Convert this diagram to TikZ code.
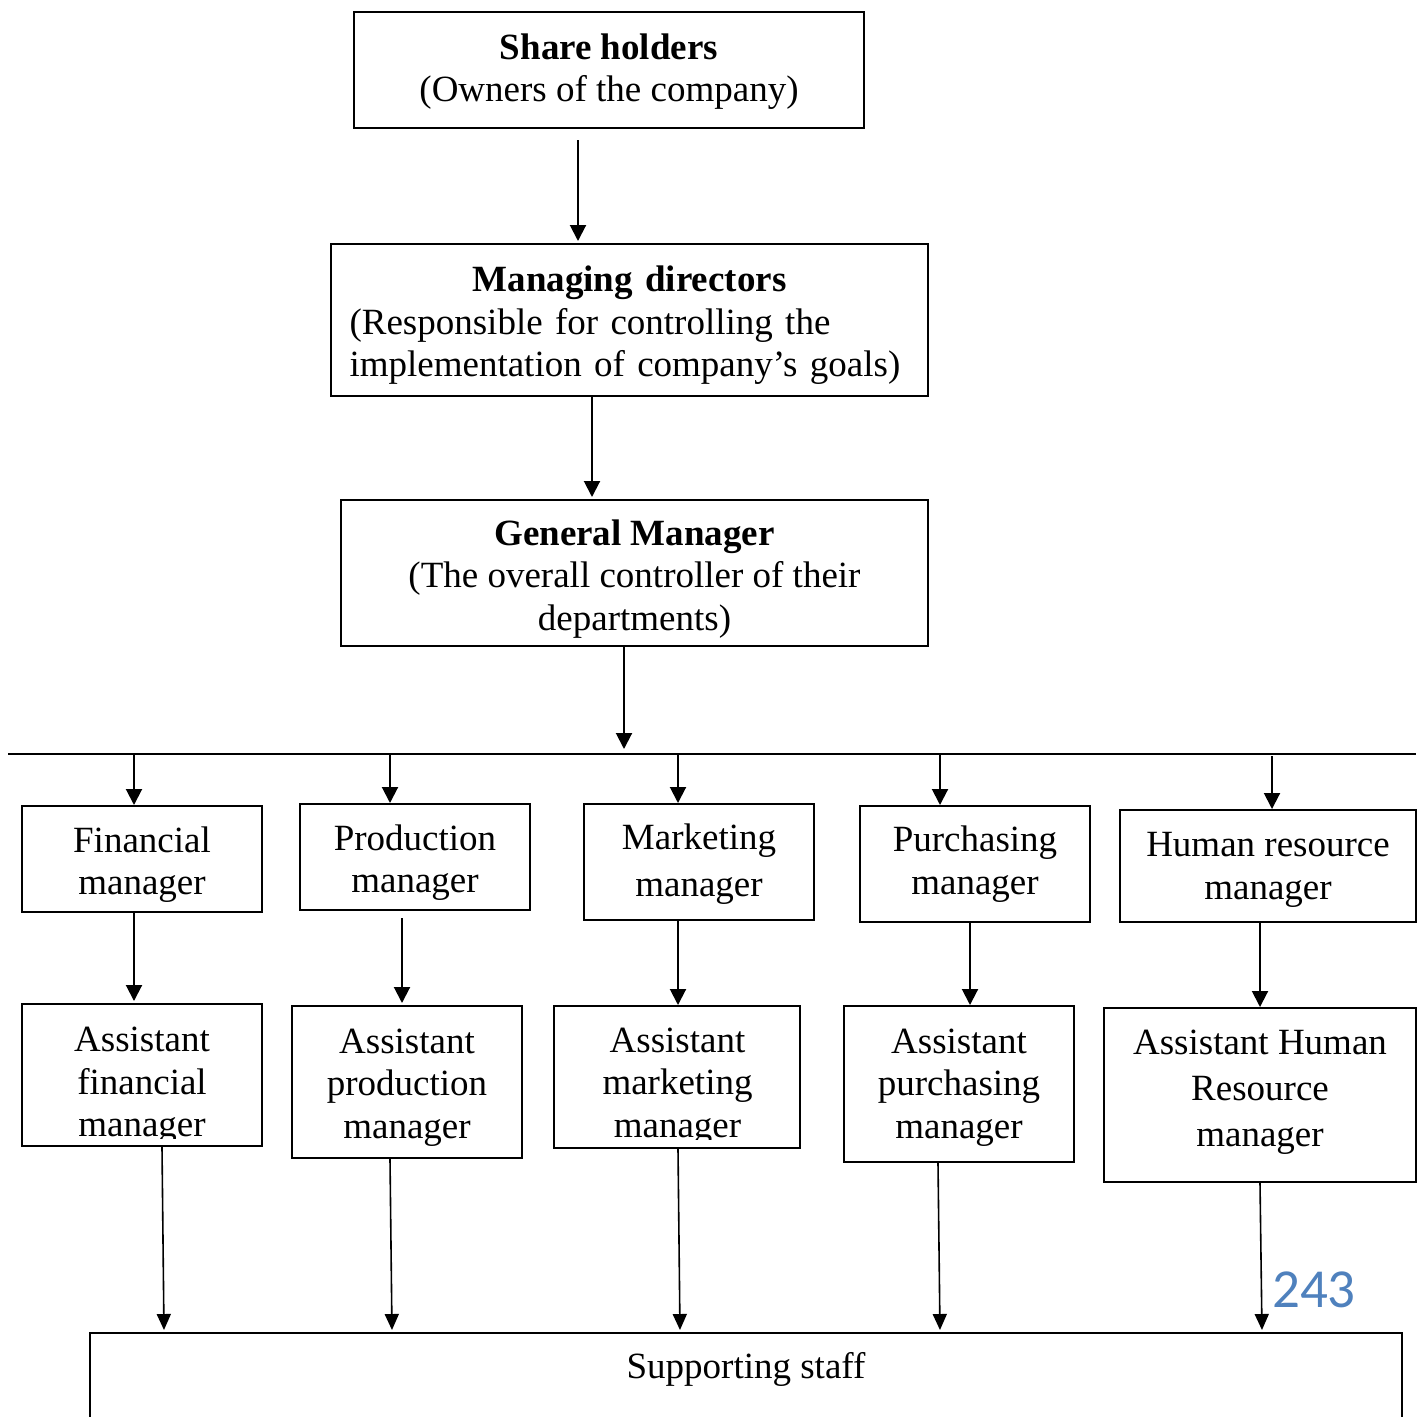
\documentclass[tikz,border=0pt]{standalone}
\usepackage{fontspec}
\setmainfont{Liberation Serif}
\newfontfamily\pagefont{Carlito}
\usetikzlibrary{arrows.meta}
\definecolor{pagenum}{RGB}{79,129,189}
% invisible rule that sets the height of a first text line
\newcommand\tallline[1]{\rule{0pt}{#1pt}}

\begin{document}
\begin{tikzpicture}[x=1pt,y=-1pt,
  box/.style={draw, line width=2pt, inner sep=0pt, align=center,
    font=\fontsize{37}{42.5}\selectfont},
  boxtext/.style={inner sep=0pt, align=center, font=\fontsize{37}{42.5}\selectfont},
  arr/.style={line width=2pt, -{Triangle[width=16pt,length=16pt]}},
  thinarr/.style={line width=1.6pt, -{Triangle[width=14pt,length=16pt]}},
]
\useasboundingbox (0,0) rectangle (1418,1416);
\clip (0,0) rectangle (1418,1416);

% ---- top of the hierarchy ----
\node[box, minimum width=510pt, minimum height=116pt] (sh) at (609,70)
  {\tallline{29}\textbf{Share holders}\\(Owners of the company)};
\node[box, minimum width=597pt, minimum height=152pt, text width=560pt, align=left] (md) at (629.5,320)
  {\tallline{36}\makebox[560pt]{\bfseries Managing directors}\\(Responsible for controlling the\\implementation of company's goals)};
\node[box, minimum width=587pt, minimum height=146pt] (gm) at (634.5,573)
  {\tallline{37}\textbf{General Manager}\\(The overall controller of their\\departments)};

% ---- department managers ----
\node[box, minimum width=240pt, minimum height=106pt] (fm) at (142,859) {\tallline{37}Financial\\manager};
\node[box, minimum width=230pt, minimum height=106pt] (pm) at (415,857) {\tallline{37}Production\\manager};
\node[box, minimum width=230pt, minimum height=116pt, font=\fontsize{37}{47}\selectfont] (mm) at (699,862) {\tallline{29}Marketing\\manager};
\node[box, minimum width=230pt, minimum height=116pt] (pum) at (975,864) {\tallline{26}Purchasing\\manager};
\node[box, minimum width=296pt, minimum height=112pt] (hm) at (1268,866) {\tallline{32}Human resource\\manager};

% ---- assistants ----
\node[box, minimum width=240pt, minimum height=142pt] (af) at (142,1075) {};
\begin{scope}
  \clip (af.north west) rectangle ([yshift=9pt]af.south east);
  \node[boxtext] (afText) at (142,1086) {Assistant\\financial\\manager};
\end{scope}
\node[box, minimum width=230pt, minimum height=152pt] (ap) at (407,1082) {\tallline{35}Assistant\\production\\manager};
\node[box, minimum width=246pt, minimum height=142pt] (am) at (677,1077) {};
\begin{scope}
  \clip (am.north west) rectangle ([yshift=10pt]am.south east);
  \node[boxtext] (amText) at (677.5,1086.5) {Assistant\\marketing\\manager};
\end{scope}
\node[box, minimum width=230pt, minimum height=156pt] (apu) at (959,1084) {\tallline{31}Assistant\\purchasing\\manager};
\node[box, minimum width=312pt, minimum height=174pt, font=\fontsize{37}{46}\selectfont] (ah) at (1260,1095)
  {Assistant Human\\Resource\\manager\rule[-14pt]{0pt}{14pt}};

% ---- supporting staff (runs off the lower edge) ----
\node[draw, line width=2pt, inner sep=0pt, anchor=north, minimum width=1312pt,
  text height=45pt, text depth=83pt, font=\fontsize{37}{42.5}\selectfont] (ss) at (746,1332) {Supporting staff};

% page number
\node[inner sep=0pt, text=pagenum, font=\pagefont\fontsize{55}{60}\selectfont] (pg) at (1314,1290) {243};

% ---- reference points for the connectors ----
\coordinate (x578) at (578,0);
\coordinate (x592) at (592,0);
\coordinate (x624) at (624,0);
\coordinate (busL) at (8,754);
\coordinate (busR) at (1416,754);
\coordinate (gmEnd) at (624,749);
\coordinate (d1) at (134,754);
\coordinate (d2) at (390,754);
\coordinate (d3) at (678,754);
\coordinate (d4) at (940,754);
\coordinate (d5) at (1272,756);
\coordinate (y402) at (402,0);
\coordinate (y970) at (970,0);
\coordinate (y1260) at (1260,0);
\coordinate (s1a) at (162,0);   \coordinate (s1b) at (164,0);
\coordinate (s2a) at (390,0);   \coordinate (s2b) at (392,0);
\coordinate (s3a) at (678,0);   \coordinate (s3b) at (680,0);
\coordinate (s4a) at (938,0);   \coordinate (s4b) at (940,0);
\coordinate (s5a) at (1260,0);  \coordinate (s5b) at (1262,0);

% ---- connectors ----
\draw[arr, shorten <=11pt, shorten >=2pt] (sh.south -| x578) -- (md.north -| x578);
\draw[arr, shorten >=2pt] (md.south -| x592) -- (gm.north -| x592);
\draw[arr] (gm.south -| x624) -- (gmEnd);
\draw[line width=2pt] (busL) -- (busR);

\draw[arr] (d1) -- (fm.north -| d1);
\draw[arr] (d2) -- (pm.north -| d2);
\draw[arr] (d3) -- (mm.north -| d3);
\draw[arr] (d4) -- (pum.north -| d4);
\draw[arr] (d5) -- (hm.north -| d5);

\draw[arr, shorten >=2pt] (fm.south -| d1) -- (af.north -| d1);
\draw[arr, shorten <=7pt, shorten >=2pt] (pm.south -| y402) -- (ap.north -| y402);
\draw[arr] (mm.south -| d3) -- (am.north -| d3);
\draw[arr] (pum.south -| y970) -- (apu.north -| y970);
\draw[arr] (hm.south -| y1260) -- (ah.north -| y1260);

\draw[thinarr, shorten >=2pt] (af.south -| s1a) -- (ss.north -| s1b);
\draw[thinarr, shorten >=2pt] (ap.south -| s2a) -- (ss.north -| s2b);
\draw[thinarr, shorten >=2pt] (am.south -| s3a) -- (ss.north -| s3b);
\draw[thinarr, shorten >=2pt] (apu.south -| s4a) -- (ss.north -| s4b);
\draw[thinarr, shorten >=2pt] (ah.south -| s5a) -- (ss.north -| s5b);
\end{tikzpicture}
\end{document}
